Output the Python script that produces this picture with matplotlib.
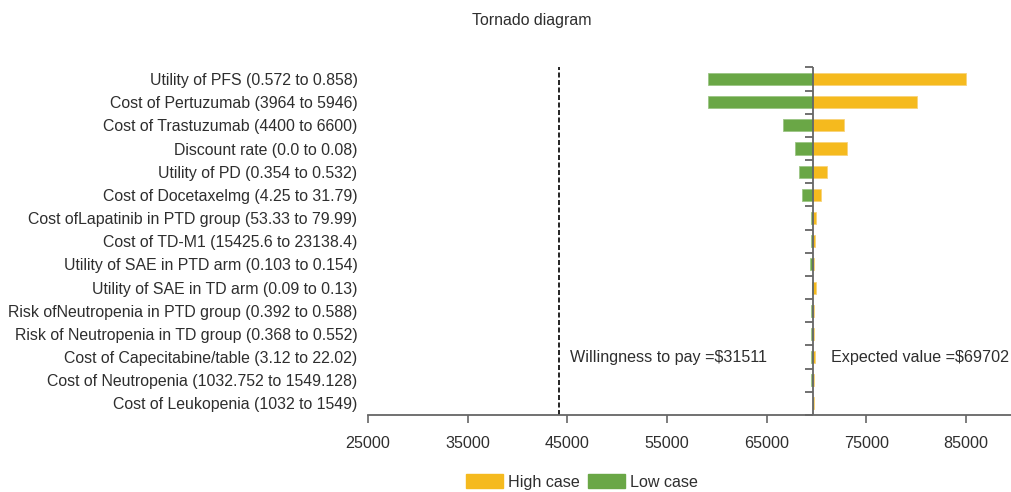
import matplotlib
matplotlib.use("Agg")
import matplotlib.pyplot as plt
from matplotlib.patches import Patch

plt.rcParams['font.family'] = ['Liberation Sans', 'DejaVu Sans']

# data
params = [
    "Utility of PFS (0.572 to 0.858)",
    "Cost of Pertuzumab (3964 to 5946)",
    "Cost of Trastuzumab (4400 to 6600)",
    "Discount rate (0.0 to 0.08)",
    "Utility of PD (0.354 to 0.532)",
    "Cost of Docetaxelmg (4.25 to 31.79)",
    "Cost ofLapatinib in PTD group (53.33 to 79.99)",
    "Cost of TD-M1 (15425.6 to 23138.4)",
    "Utility of SAE in PTD arm (0.103 to 0.154)",
    "Utility of SAE in TD arm (0.09 to 0.13)",
    "Risk ofNeutropenia in PTD group (0.392 to 0.588)",
    "Risk of Neutropenia in TD group (0.368 to 0.552)",
    "Cost of Capecitabine/table (3.12 to 22.02)",
    "Cost of Neutropenia (1032.752 to 1549.128)",
    "Cost of Leukopenia (1032 to 1549)",
]
low_case = [59070, 59100, 66600, 67880, 68220, 68520, 69420, 69490,
            69320, 69600, 69490, 69500, 69420, 69490, 69650]
high_case = [85000, 80100, 72740, 73070, 71100, 70500, 69950, 69850,
             69800, 70000, 69800, 69800, 69850, 69780, 69800]
expected_value = 69702
wtp_line = 44150
xticks = [25000, 35000, 45000, 55000, 65000, 75000, 85000]

YELLOW = "#F5BA1E"
GREEN = "#6AA746"
TEXT = "#2E2E2E"
AXIS = "#666666"
FS = 11.6

fig = plt.figure(figsize=(10.11, 4.92), dpi=100)
ax = fig.add_axes([368 / 1011, 1 - 415 / 492, (1011 - 368) / 1011, (415 - 67.4) / 492])

ys = list(range(len(params)))
high_w = [h - expected_value for h in high_case]
low_w = [expected_value - l for l in low_case]
ax.barh(ys, high_w, left=expected_value, height=0.52, color=YELLOW,
        edgecolor="#F8D37A", linewidth=0.6, zorder=2)
ax.barh(ys, low_w, left=low_case, height=0.52, color=GREEN,
        edgecolor="#9CC585", linewidth=0.6, zorder=2)

# centre line with tick marks at the row boundaries
ax.axvline(expected_value, color=AXIS, lw=1.3, zorder=3)
bounds = [y - 0.5 for y in ys] + [len(ys) - 0.5]
ax.plot([expected_value] * len(bounds), bounds, linestyle="none", marker=0,
        markersize=6, markeredgewidth=1.3, color=AXIS, zorder=3, clip_on=False)

ax.axvline(wtp_line, color="black", lw=1.2, ls=(0, (3, 1.5)), zorder=1)

ax.text(wtp_line + 1100, 12, "Willingness to pay =$31511", va="center",
        ha="left", fontsize=FS, color=TEXT)
ax.text(expected_value + 1800, 12, "Expected value =$69702", va="center",
        ha="left", fontsize=FS, color=TEXT)

ax.set_ylim(len(ys) - 0.5, -0.5)
ax.set_xlim(25000, 89520)
ax.set_yticks(ys)
ax.set_yticklabels(params, fontsize=11.4, color=TEXT)
ax.tick_params(axis="y", length=0, pad=7.5)
ax.set_xticks(xticks)
ax.set_xticklabels([str(t) for t in xticks], fontsize=FS, color=TEXT)
ax.tick_params(axis="x", length=6, width=1.2, color=AXIS, pad=9, direction="out")

for s in ["left", "right", "top"]:
    ax.spines[s].set_visible(False)
ax.spines["bottom"].set_color(AXIS)
ax.spines["bottom"].set_linewidth(1.3)

fig.text(532 / 1011, 1 - 20 / 492, "Tornado diagram", ha="center", va="center",
         fontsize=11.4, color=TEXT)

handles = [Patch(color=YELLOW, label="High case"), Patch(color=GREEN, label="Low case")]
fig.legend(handles=handles, loc="center", bbox_to_anchor=(582 / 1011, 1 - 482 / 492),
           ncol=2, frameon=False, fontsize=FS, handlelength=2.3, handleheight=0.9,
           handletextpad=0.3, columnspacing=0.5, labelcolor=TEXT)

fig.savefig("out.png", dpi=100)
